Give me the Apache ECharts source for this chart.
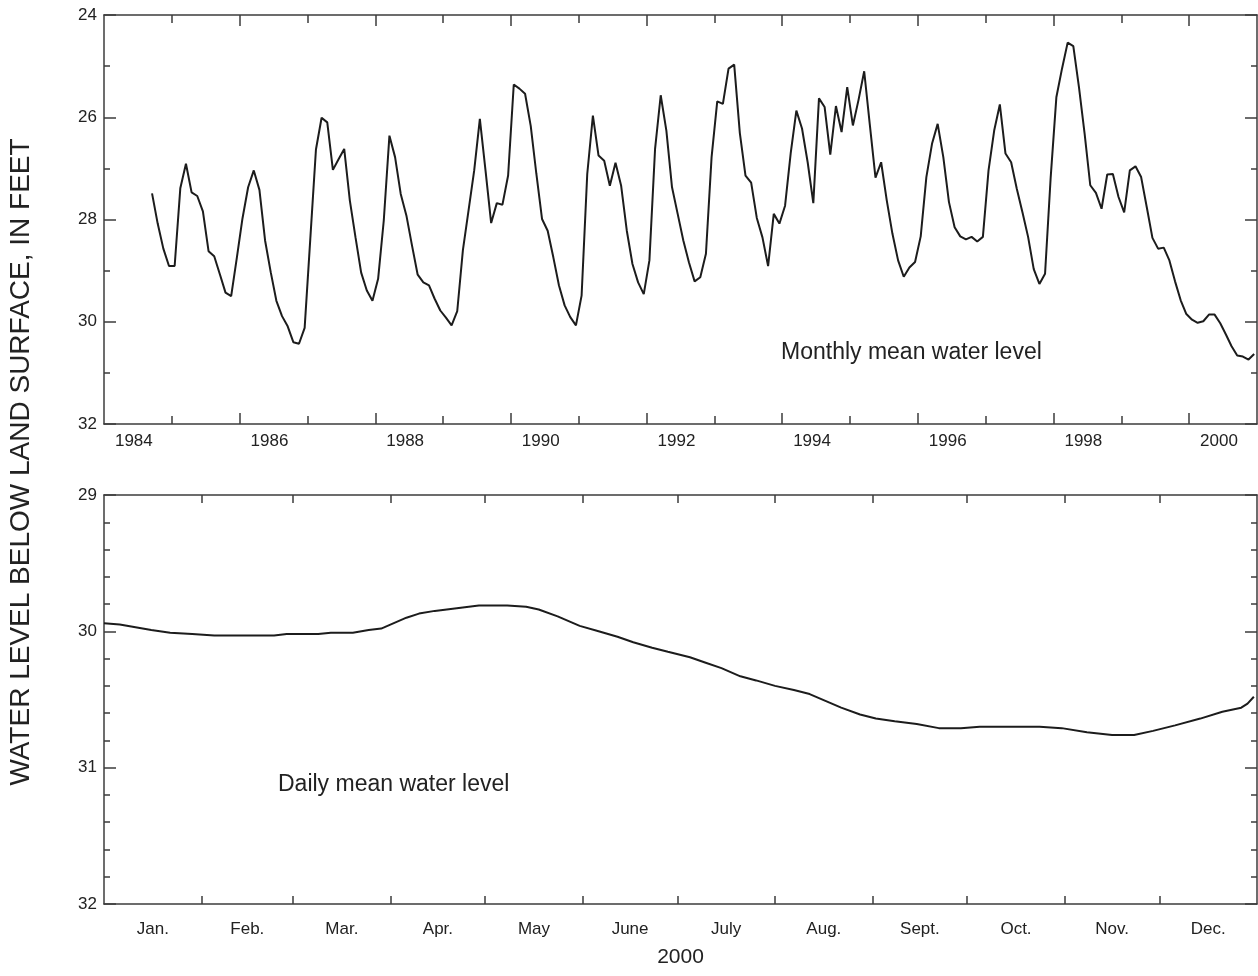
<!DOCTYPE html>
<html>
<head>
<meta charset="utf-8">
<script src="https://cdn.jsdelivr.net/npm/echarts@6/dist/echarts.min.js"></script>
<style>
  html, body { margin: 0; padding: 0; background: #fff; }
  #chart { width: 1258px; height: 976px; }
</style>
</head>
<body>
<div id="chart"></div>
<script>
// Monthly mean water level, feet below land surface, Sept. 1984 through Dec. 2000
const monthlyStartYear = 1984;
const monthlyStartMonth = 9;
const monthlyLevels = [
  27.49, 28.08, 28.57, 28.91,
  28.91, 27.39, 26.91, 27.47, 27.54, 27.84, 28.62, 28.72, 29.07, 29.43, 29.50, 28.75,
  27.98, 27.37, 27.04, 27.42, 28.41, 29.03, 29.59, 29.89, 30.09, 30.40, 30.43, 30.12,
  28.38, 26.63, 26.01, 26.10, 27.03, 26.82, 26.62, 27.63, 28.35, 29.04, 29.39, 29.59,
  29.16, 28.02, 26.36, 26.78, 27.50, 27.92, 28.51, 29.08, 29.23, 29.29, 29.55, 29.78,
  29.92, 30.07, 29.79, 28.60, 27.82, 27.04, 26.03, 27.04, 28.07, 27.68, 27.71, 27.14,
  25.36, 25.44, 25.54, 26.17, 27.11, 27.99, 28.22, 28.74, 29.29, 29.68, 29.91, 30.07,
  29.49, 27.11, 25.97, 26.75, 26.85, 27.34, 26.89, 27.34, 28.22, 28.87, 29.23, 29.46,
  28.80, 26.62, 25.57, 26.26, 27.37, 27.89, 28.41, 28.84, 29.21, 29.13, 28.67, 26.78,
  25.69, 25.74, 25.05, 24.97, 26.31, 27.14, 27.28, 27.97, 28.35, 28.91, 27.89, 28.08,
  27.73, 26.70, 25.87, 26.22, 26.88, 27.68, 25.63, 25.80, 26.73, 25.78, 26.29, 25.41,
  26.16, 25.66, 25.10, 26.15, 27.18, 26.88, 27.63, 28.28, 28.80, 29.12, 28.94, 28.83,
  28.33, 27.17, 26.52, 26.13, 26.78, 27.66, 28.15, 28.33, 28.39, 28.34, 28.43, 28.34,
  27.04, 26.26, 25.75, 26.71, 26.88, 27.40, 27.86, 28.34, 28.97, 29.26, 29.06, 27.17,
  25.61, 25.05, 24.54, 24.61, 25.41, 26.32, 27.33, 27.48, 27.79, 27.12, 27.11, 27.56,
  27.86, 27.04, 26.96, 27.17, 27.76, 28.36, 28.57, 28.55, 28.80, 29.21, 29.58, 29.85,
  29.96, 30.02, 29.99, 29.86, 29.86, 30.03, 30.25, 30.48, 30.66, 30.68, 30.74, 30.63
];
const yearLabels = ['1984', '1986', '1988', '1990', '1992', '1994', '1996', '1998', '2000'];
const topYTicks = [24, 26, 28, 30, 32];

// Daily mean water level during 2000 (day of year, feet below land surface)
const dailyDays = [
  0, 5, 10, 15, 21, 28, 35, 45, 54, 58, 68, 72, 79, 84, 88, 92, 96, 100, 105, 112,
  119, 128, 134, 138, 144, 151, 157, 163, 168, 174, 179, 186, 191, 196, 202, 207, 213,
  219, 224, 229, 234, 240, 245, 251, 258, 265, 272, 278, 290, 297, 304, 312, 320, 327,
  333, 340, 348, 355, 361, 363, 365
];
const dailyLevels = [
  29.94, 29.95, 29.97, 29.99, 30.01, 30.02, 30.03, 30.03, 30.03, 30.02, 30.02, 30.01, 30.01,
  29.99, 29.98, 29.94, 29.90, 29.87, 29.85, 29.83, 29.81, 29.81, 29.82, 29.84, 29.89,
  29.96, 30.00, 30.04, 30.08, 30.12, 30.15, 30.19, 30.23, 30.27, 30.33, 30.36, 30.40,
  30.43, 30.46, 30.51, 30.56, 30.61, 30.64, 30.66, 30.68, 30.71, 30.71, 30.70, 30.70,
  30.70, 30.71, 30.74, 30.76, 30.76, 30.73, 30.69, 30.64, 30.59, 30.56, 30.53, 30.48
];
const monthLabels = ['Jan.', 'Feb.', 'Mar.', 'Apr.', 'May', 'June', 'July', 'Aug.', 'Sept.', 'Oct.', 'Nov.', 'Dec.'];
const monthDays2000 = [31, 29, 31, 30, 31, 30, 31, 31, 30, 31, 30, 31];
const bottomYTicks = [29, 30, 31, 32];

const FONT = 'Liberation Sans, Arial, Helvetica, sans-serif';
const FRAME = '#3d3d3d';
const INK = '#1c1c1c';
const TEXT = '#222';

// year boundaries and label positions for the upper panel
const oddYears = [], evenYears = [];
for (let y = 1985; y <= 2000; y++) (y % 2 ? oddYears : evenYears).push(y);
const yearLabelPos = yearLabels.map(s => Number(s) + 0.44);

// month boundaries and month centres for the lower panel
const monthStarts = [];
let acc = 0;
monthDays2000.forEach(d => { monthStarts.push(acc); acc += d; });
const monthEdges = monthStarts.slice(1);
const monthMids = monthStarts.map((s, i) => s + monthDays2000[i] / 2);

const monthlyData = monthlyLevels.map((v, i) =>
  [monthlyStartYear + (monthlyStartMonth - 1 + i + 0.5) / 12, v]);
const dailyData = dailyDays.map((d, i) => [d, dailyLevels[i]]);

function frameX(grid, pos, ticks, len, withLine) {
  return {
    type: 'value', gridIndex: grid, position: pos,
    min: grid === 0 ? 1984 : 0, max: grid === 0 ? 2001 : 366,
    axisLine: { show: withLine, onZero: false, lineStyle: { color: FRAME, width: 1.5 } },
    axisTick: { show: true, inside: true, length: len, customValues: ticks,
                lineStyle: { color: FRAME, width: 1.5 } },
    axisLabel: { show: false },
    splitLine: { show: false }
  };
}

function frameY(grid, pos, min, max, interval, minorSplit, showLabels) {
  return {
    type: 'value', gridIndex: grid, position: pos, inverse: true,
    min: min, max: max, interval: interval,
    axisLine: { show: true, onZero: false, lineStyle: { color: FRAME, width: 1.5 } },
    axisTick: { show: true, inside: true, length: 12, lineStyle: { color: FRAME, width: 1.5 } },
    minorTick: { show: true, splitNumber: minorSplit, length: 6, lineStyle: { color: FRAME, width: 1.5 } },
    axisLabel: { show: showLabels, margin: 7, color: TEXT, fontFamily: FONT, fontSize: 17 },
    splitLine: { show: false }
  };
}

const topLabelAxis = frameX(0, 'bottom', oddYears, 8, true);
topLabelAxis.axisLabel = {
  show: true, customValues: yearLabelPos, margin: 9, color: TEXT, fontFamily: FONT, fontSize: 17,
  formatter: v => yearLabels[Math.round((v - yearLabelPos[0]) / 2)]
};

const bottomLabelAxis = frameX(1, 'bottom', monthEdges, 8, true);
bottomLabelAxis.axisLabel = {
  show: true, customValues: monthMids, margin: 17, color: TEXT, fontFamily: FONT, fontSize: 17,
  formatter: v => monthLabels[monthMids.findIndex(m => Math.abs(m - v) < 0.01)]
};
bottomLabelAxis.name = '2000';
bottomLabelAxis.nameLocation = 'middle';
bottomLabelAxis.nameGap = 43;
bottomLabelAxis.nameTextStyle = { color: TEXT, fontFamily: FONT, fontSize: 21 };

const option = {
  animation: false,
  backgroundColor: '#fff',
  grid: [
    { left: 104, top: 15, width: 1153, height: 409 },
    { left: 104, top: 495, width: 1153, height: 409 }
  ],
  xAxis: [
    topLabelAxis,
    frameX(0, 'bottom', evenYears, 11, false),
    frameX(0, 'top', oddYears, 8, true),
    frameX(0, 'top', evenYears, 11, false),
    bottomLabelAxis,
    frameX(1, 'top', monthEdges, 8, true)
  ],
  yAxis: [
    frameY(0, 'left', 24, 32, 2, 2, true),
    frameY(0, 'right', 24, 32, 2, 2, false),
    frameY(1, 'left', 29, 32, 1, 5, true),
    frameY(1, 'right', 29, 32, 1, 5, false)
  ],
  series: [
    {
      name: 'Monthly mean water level', type: 'line', xAxisIndex: 0, yAxisIndex: 0,
      data: monthlyData, showSymbol: false, silent: true,
      lineStyle: { color: INK, width: 2 }
    },
    {
      name: 'Daily mean water level', type: 'line', xAxisIndex: 4, yAxisIndex: 2,
      data: dailyData, showSymbol: false, silent: true,
      lineStyle: { color: INK, width: 2 }
    }
  ],
  graphic: [
    { type: 'text', x: 21, y: 462, rotation: Math.PI / 2,
      style: { text: 'WATER LEVEL BELOW LAND SURFACE, IN FEET', fill: TEXT,
               font: '28px ' + FONT, align: 'center', verticalAlign: 'middle' } },
    { type: 'text', x: 781, y: 353,
      style: { text: 'Monthly mean water level', fill: TEXT,
               font: '23px ' + FONT, align: 'left', verticalAlign: 'middle' } },
    { type: 'text', x: 278, y: 785,
      style: { text: 'Daily mean water level', fill: TEXT,
               font: '23px ' + FONT, align: 'left', verticalAlign: 'middle' } }
  ]
};

const chart = echarts.init(document.getElementById('chart'), null, { renderer: 'canvas' });
chart.setOption(option);
</script>
</body>
</html>
